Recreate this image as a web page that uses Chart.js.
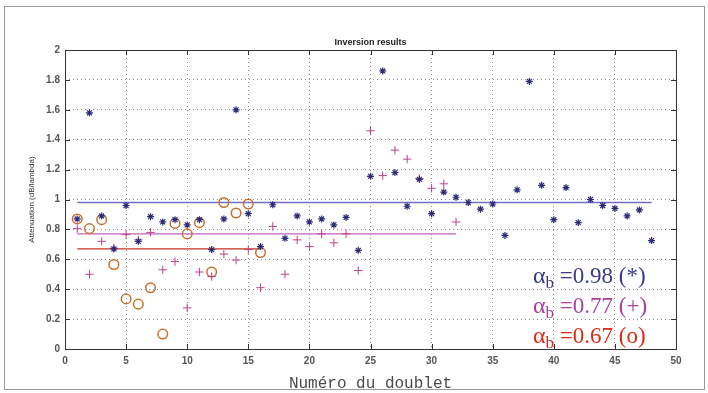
<!DOCTYPE html>
<html>
<head>
<meta charset="utf-8">
<script src="https://cdn.jsdelivr.net/npm/chart.js@4"></script>
<style>
  html, body { margin: 0; padding: 0; background: #fff; }
  #wrap { width: 708px; height: 393px; position: relative; }
</style>
</head>
<body>
<div id="wrap"><canvas id="chart" width="708" height="393"></canvas></div>
<script>
// Numéro du doublet 1..48
const doublets = Array.from({ length: 48 }, (_, i) => i + 1);

// Attenuation values
const starValues = [
  0.87, 1.58, 0.89, 0.67, 0.96, 0.72, 0.885, 0.85, 0.865, 0.83,
  0.865, 0.665, 0.87, 1.60, 0.905, 0.685, 0.965, 0.74, 0.89, 0.85,
  0.87, 0.83, 0.88, 0.66, 1.155, 1.86, 1.18, 0.955, 1.135, 0.905,
  1.05, 1.015, 0.98, 0.935, 0.97, 0.76, 1.065, 1.79, 1.095, 0.865,
  1.08, 0.845, 1.0, 0.96, 0.94, 0.89, 0.93, 0.725
];
const plusValues = [
  0.805, 0.50, 0.72, 0.675, 0.765, 0.73, 0.78, 0.53, 0.585, 0.275,
  0.515, 0.485, 0.635, 0.595, 0.665, 0.41, 0.82, 0.50, 0.73, 0.685,
  0.77, 0.71, 0.77, 0.525, 1.46, 1.16, 1.33, 1.27, 1.14, 1.075,
  1.105, 0.85
];
const circleValues = [
  0.87, 0.805, 0.865, 0.565, 0.335, 0.30, 0.41, 0.10, 0.84, 0.77,
  0.845, 0.515, 0.98, 0.91, 0.97, 0.645
];

// mean attenuation for each set
const alphaLabels = ['0.98 (*)', '0.77 (+)', '0.67 (o)'];
const alphaMeans = [0.98, 0.77, 0.67];
const alphaEnds = [48, 32, 16];

const xTicks = [0, 5, 10, 15, 20, 25, 30, 35, 40, 45, 50];
const yTicks = [0, 0.2, 0.4, 0.6, 0.8, 1, 1.2, 1.4, 1.6, 1.8, 2];

const starColor = '#2c2c78';
const plusColor = '#c0408a';
const circleColor = '#c8702c';
const lineColors = ['#7070c8', '#c060c0', '#c83020'];
const textColors = ['#3a3a88', '#a8409c', '#dd2a18'];

const toPoints = (vals) => vals.map((v, i) => ({ x: doublets[i], y: v }));

function meanLine(k) {
  return {
    type: 'line',
    data: [{ x: 1, y: alphaMeans[k] }, { x: alphaEnds[k], y: alphaMeans[k] }],
    borderColor: lineColors[k],
    borderWidth: 1.3,
    pointRadius: 0,
    showLine: true,
    order: 5
  };
}

// frame, inner ticks, title, alpha annotations
const decor = {
  id: 'decor',
  beforeDraw(chart) {
    const c = chart.ctx;
    c.save();
    c.fillStyle = '#fff';
    c.fillRect(0, 0, chart.width, chart.height);
    c.strokeStyle = '#9a9a9a';
    c.lineWidth = 1;
    c.strokeRect(4.5, 6.5, 700, 383);
    c.restore();
  },
  afterDraw(chart) {
    const c = chart.ctx;
    const a = chart.chartArea;
    const xs = chart.scales.x, ys = chart.scales.y;
    c.save();
    c.strokeStyle = '#333';
    c.lineWidth = 1;
    c.strokeRect(a.left + 0.5, a.top + 0.5, a.right - a.left, a.bottom - a.top);
    c.beginPath();
    xTicks.forEach(t => {
      const px = Math.round(xs.getPixelForValue(t)) + 0.5;
      c.moveTo(px, a.bottom); c.lineTo(px, a.bottom - 5);
      c.moveTo(px, a.top); c.lineTo(px, a.top + 5);
    });
    yTicks.forEach(t => {
      const py = Math.round(ys.getPixelForValue(t)) + 0.5;
      c.moveTo(a.left, py); c.lineTo(a.left + 5, py);
      c.moveTo(a.right, py); c.lineTo(a.right - 5, py);
    });
    c.stroke();

    c.fillStyle = '#222';
    c.font = 'bold 9px "Liberation Sans", Arial, sans-serif';
    c.textAlign = 'center';
    c.textBaseline = 'alphabetic';
    c.fillText('Inversion results', (a.left + a.right) / 2, a.top - 5);

    // alpha_b annotations
    const x0 = xs.getPixelForValue(38.3);
    alphaLabels.forEach((lab, k) => {
      const y = ys.getPixelForValue(0.44 - k * 0.2);
      c.fillStyle = textColors[k];
      c.textAlign = 'left';
      c.font = '24px "Liberation Serif", "Times New Roman", serif';
      c.fillText('\u03b1', x0, y);
      let w = c.measureText('\u03b1').width;
      c.font = '17px "Liberation Serif", "Times New Roman", serif';
      c.fillText('b', x0 + w, y + 5);
      w += c.measureText('b').width;
      c.font = '23px "Liberation Serif", "Times New Roman", serif';
      c.fillText(' =' + lab, x0 + w, y);
    });
    c.restore();
  }
};

const tickFont = { family: '"Liberation Sans", Arial, sans-serif', size: 10, weight: 'bold' };
const fmt = (v) => String(Math.round(v * 10) / 10);

new Chart(document.getElementById('chart'), {
  type: 'scatter',
  data: {
    datasets: [
      {
        label: 'star',
        data: toPoints(starValues),
        pointStyle: 'star',
        radius: 3.5,
        borderColor: starColor,
        backgroundColor: starColor,
        borderWidth: 1.2,
        order: 1
      },
      {
        label: 'plus',
        data: toPoints(plusValues),
        pointStyle: 'cross',
        radius: 4.2,
        borderColor: plusColor,
        borderWidth: 1,
        order: 2
      },
      {
        label: 'circle',
        data: toPoints(circleValues),
        pointStyle: 'circle',
        radius: 4.8,
        borderColor: circleColor,
        backgroundColor: 'rgba(0,0,0,0)',
        borderWidth: 1.5,
        order: 3
      },
      meanLine(0),
      meanLine(1),
      meanLine(2)
    ]
  },
  options: {
    responsive: false,
    animation: false,
    layout: { padding: { left: 27, right: 32, top: 50, bottom: 0 } },
    plugins: {
      legend: { display: false },
      tooltip: { enabled: false },
      title: { display: false }
    },
    scales: {
      x: {
        type: 'linear',
        min: 0,
        max: 50,
        afterBuildTicks: (s) => { s.ticks = xTicks.map(v => ({ value: v })); },
        afterFit: (s) => { s.height = 44; },
        border: { display: false, dash: [1, 3] },
        grid: { color: '#8a8a8a', drawTicks: false, lineWidth: 1 },
        ticks: { padding: 6, color: '#555', font: tickFont, callback: fmt },
        title: {
          display: true,
          text: 'Numéro du doublet',
          color: '#4a4a4a',
          padding: { top: 3, bottom: 0 },
          font: { family: '"Liberation Mono", "Courier New", monospace', size: 16 }
        }
      },
      y: {
        type: 'linear',
        min: 0,
        max: 2,
        afterBuildTicks: (s) => { s.ticks = yTicks.map(v => ({ value: v })); },
        afterFit: (s) => { s.width = 38; },
        border: { display: false, dash: [1, 3] },
        grid: { color: '#8a8a8a', drawTicks: false, lineWidth: 1 },
        ticks: { padding: 5, color: '#555', font: tickFont, callback: fmt },
        title: {
          display: true,
          text: 'Attenuation (dB/lambda)',
          color: '#333',
          padding: { top: 0, bottom: 0 },
          font: { family: '"Liberation Sans", Arial, sans-serif', size: 8 }
        }
      }
    }
  },
  plugins: [decor]
});
</script>
</body>
</html>
